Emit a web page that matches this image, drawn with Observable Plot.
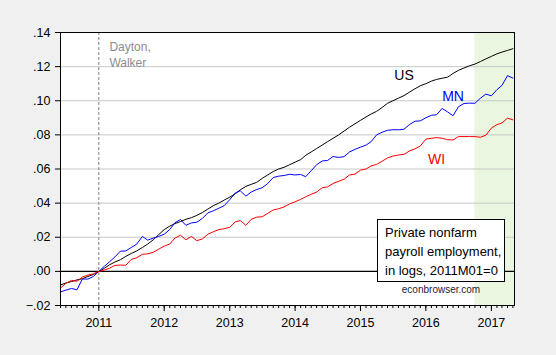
<!DOCTYPE html>
<html>
<head>
<meta charset="utf-8">
<script src="https://cdn.jsdelivr.net/npm/d3@7"></script>
<script src="https://cdn.jsdelivr.net/npm/@observablehq/plot@0.6"></script>
<style>
  html, body { margin: 0; padding: 0; background: #f0f0f0; }
  #wrap { position: relative; width: 556px; height: 355px; font-family: "Liberation Sans", Arial, sans-serif; }
  #note { position: absolute; left: 377px; top: 219px; width: 112px; height: 51px; border: 1px solid #000; background: #fff;
          padding: 3px 7px 7px 7px; font-size: 13px; line-height: 19px; color: #000; white-space: nowrap; }
  #src { position: absolute; left: 378px; width: 126px; top: 284px; text-align: center; font-size: 10px; color: #1a1a40; }
</style>
</head>
<body>
<div id="wrap">
  <div id="chart"></div>
  <div id="note">Private nonfarm<br>payroll employment,<br>in logs, 2011M01=0</div>
  <div id="src">econbrowser.com</div>
</div>
<script>
// Monthly data, 2010M06 .. 2017M05 (log private nonfarm payroll employment, 2011M01 = 0)
const firstMonth = "2010-06";
const us = [
  -0.0080, -0.0068, -0.0060, -0.0050, -0.0043, -0.0030, -0.0018,
  0.0000, 0.0018, 0.0038, 0.0055, 0.0068, 0.0088, 0.0105, 0.0120, 0.0140, 0.0160, 0.0185, 0.0215,
  0.0245, 0.0265, 0.0280, 0.0292, 0.0305, 0.0315, 0.0328, 0.0345, 0.0365, 0.0385, 0.0400, 0.0418,
  0.0435, 0.0455, 0.0478, 0.0498, 0.0510, 0.0522, 0.0545, 0.0565, 0.0585, 0.0600, 0.0610, 0.0625,
  0.0640, 0.0655, 0.0680, 0.0700, 0.0720, 0.0740, 0.0760, 0.0780, 0.0800, 0.0822, 0.0845, 0.0865,
  0.0885, 0.0905, 0.0922, 0.0938, 0.0960, 0.0985, 0.1000, 0.1015, 0.1030, 0.1050, 0.1070, 0.1088,
  0.1100, 0.1115, 0.1125, 0.1132, 0.1138, 0.1160, 0.1178, 0.1192, 0.1205, 0.1215, 0.1230, 0.1245,
  0.1260, 0.1275, 0.1285, 0.1295, 0.1305
];
const mn = [
  -0.0120, -0.0110, -0.0100, -0.0108, -0.0045, -0.0045, -0.0030,
  0.0000, 0.0030, 0.0055, 0.0085, 0.0118, 0.0120, 0.0140, 0.0160, 0.0205, 0.0183, 0.0195, 0.0205,
  0.0218, 0.0245, 0.0285, 0.0304, 0.0270, 0.0284, 0.0288, 0.0310, 0.0343, 0.0355, 0.0370, 0.0385,
  0.0420, 0.0460, 0.0472, 0.0441, 0.0465, 0.0480, 0.0490, 0.0515, 0.0550, 0.0558, 0.0562, 0.0569,
  0.0565, 0.0568, 0.0555, 0.0590, 0.0625, 0.0647, 0.0650, 0.0673, 0.0668, 0.0672, 0.0700, 0.0715,
  0.0728, 0.0740, 0.0760, 0.0800, 0.0815, 0.0827, 0.0830, 0.0830, 0.0833, 0.0860, 0.0880, 0.0882,
  0.0900, 0.0915, 0.0918, 0.0955, 0.0935, 0.0912, 0.0965, 0.0984, 0.0986, 0.0985, 0.1015, 0.1039,
  0.1029, 0.1065, 0.1090, 0.1147, 0.1133
];
const wi = [
  -0.0098, -0.0070, -0.0053, -0.0058, -0.0033, -0.0022, -0.0015,
  0.0000, 0.0008, 0.0018, 0.0035, 0.0037, 0.0036, 0.0070, 0.0080, 0.0100, 0.0103, 0.0112, 0.0130,
  0.0148, 0.0160, 0.0195, 0.0212, 0.0185, 0.0205, 0.0180, 0.0190, 0.0218, 0.0232, 0.0245, 0.0250,
  0.0258, 0.0290, 0.0298, 0.0270, 0.0305, 0.0318, 0.0320, 0.0340, 0.0360, 0.0367, 0.0378, 0.0395,
  0.0408, 0.0422, 0.0437, 0.0452, 0.0465, 0.0490, 0.0495, 0.0515, 0.0528, 0.0540, 0.0565, 0.0570,
  0.0593, 0.0600, 0.0618, 0.0627, 0.0645, 0.0665, 0.0676, 0.0682, 0.0686, 0.0705, 0.0718, 0.0735,
  0.0775, 0.0780, 0.0784, 0.0780, 0.0772, 0.0770, 0.0790, 0.0790, 0.0790, 0.0790, 0.0786, 0.0798,
  0.0840, 0.0860, 0.0870, 0.0898, 0.0888
];
const yTicks = [-0.02, 0.00, 0.02, 0.04, 0.06, 0.08, 0.10, 0.12, 0.14];
const yearTicks = ["2011", "2012", "2013", "2014", "2015", "2016", "2017"];
const shadeStart = "2016-10";
const eventMonth = "2011-01";
const seriesLabels = [
  {name: "US", month: "2015-09", value: 0.1147},
  {name: "MN", month: "2016-06", value: 0.1025},
  {name: "WI", month: "2016-03", value: 0.0657}
];
const eventLabels = [
  {text: "Dayton,", month: "2011-03", value: 0.1314},
  {text: "Walker", month: "2011-03", value: 0.1220}
];

const parseM = d3.utcParse("%Y-%m");
const t0 = parseM(firstMonth);
const dates = us.map((_, i) => d3.utcMonth.offset(t0, i));
const xEnd = d3.utcDay.offset(dates[dates.length - 1], 9);
const rows = (arr) => arr.map((v, i) => ({date: dates[i], value: v}));
const yearDates = yearTicks.map(y => d3.utcParse("%Y")(y));
const monthTicks = d3.utcMonth.range(t0, xEnd);
const fmtY = d => d3.format(".2f")(d).replace("0.", ".");
const colors = {US: "#000000", MN: "#0000ff", WI: "#ff0000"};

const chart = Plot.plot({
  width: 556,
  height: 355,
  marginLeft: 60,
  marginRight: 42,
  marginTop: 32,
  marginBottom: 50,
  style: {background: "#f0f0f0", fontFamily: "'Liberation Sans', Arial, sans-serif", fontSize: "12.5px", color: "#000"},
  x: {type: "utc", domain: [t0, xEnd]},
  y: {domain: [-0.02, 0.14]},
  marks: [
    Plot.frame({fill: "white", stroke: null}),
    Plot.rect([{x1: parseM(shadeStart), x2: xEnd}], {x1: "x1", x2: "x2", y1: -0.02, y2: 0.14, fill: "#eaf6df"}),
    Plot.ruleY(yTicks.filter(d => d !== 0), {stroke: "#c8c8c8", strokeWidth: 1}),
    Plot.ruleY([0], {stroke: "#000", strokeWidth: 1.2}),
    Plot.ruleX([parseM(eventMonth)], {stroke: "#808080", strokeDasharray: "3,2"}),
    Plot.line(rows(us), {x: "date", y: "value", stroke: colors.US, strokeWidth: 1}),
    Plot.line(rows(mn), {x: "date", y: "value", stroke: colors.MN, strokeWidth: 1}),
    Plot.line(rows(wi), {x: "date", y: "value", stroke: colors.WI, strokeWidth: 1}),
    Plot.text(eventLabels, {x: d => parseM(d.month), y: "value", text: "text", textAnchor: "start", fill: "#8c8c8c", fontSize: 12}),
    Plot.text(seriesLabels, {x: d => parseM(d.month), y: "value", text: "name", fill: d => colors[d.name], fontSize: 14}),
    Plot.axisY({ticks: yTicks, tickSize: 5, tickPadding: 5, tickFormat: fmtY, label: null}),
    Plot.axisX({ticks: monthTicks, tickSize: 3, tickFormat: () => "", label: null}),
    Plot.axisX({ticks: yearDates, tickSize: 6, tickPadding: 7, tickFormat: d3.utcFormat("%Y"), label: null}),
    Plot.frame({stroke: "#000", strokeWidth: 1})
  ]
});
document.getElementById("chart").appendChild(chart);
</script>
</body>
</html>
